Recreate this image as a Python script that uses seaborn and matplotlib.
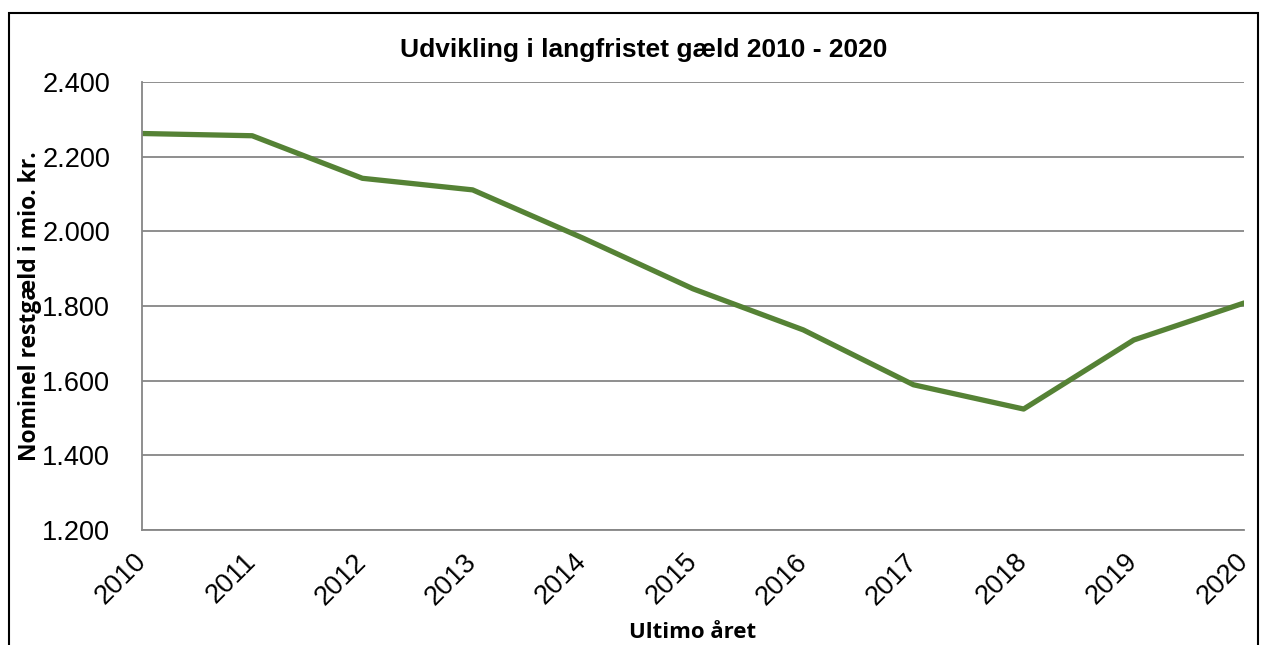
import matplotlib
matplotlib.use("Agg")
import matplotlib.pyplot as plt
import seaborn as sns
import pandas as pd
from matplotlib.patches import Rectangle

years = [2010, 2011, 2012, 2013, 2014, 2015, 2016, 2017, 2018, 2019, 2020]
restgaeld = [2262, 2256, 2142, 2111, 1982, 1846, 1736, 1589, 1524, 1709, 1808]
y_ticks = [1200, 1400, 1600, 1800, 2000, 2200, 2400]
y_tick_labels = ["1.200", "1.400", "1.600", "1.800", "2.000", "2.200", "2.400"]

df = pd.DataFrame({"aar": years, "gaeld": restgaeld})

sns.set_style("white")
plt.rcParams["font.family"] = ["Liberation Sans", "DejaVu Sans"]

grey = "#868686"
fig = plt.figure(figsize=(12.68, 6.45), dpi=100)
ax = fig.add_axes([0.112, 0.1783, 0.8691, 0.6946])

sns.lineplot(data=df, x="aar", y="gaeld", ax=ax, color="#558235", linewidth=3.8)

ax.set_xlim(2010, 2020)
ax.set_ylim(1200, 2400)
ax.set_yticks(y_ticks)
ax.set_yticklabels(y_tick_labels, fontsize=19.5, color="black")
ax.set_xticks(years)
ax.set_xticklabels([str(y) for y in years], fontsize=19.5, color="black",
                   rotation=45, ha="right", va="center", rotation_mode="anchor")
ax.grid(axis="y", color=grey, linewidth=1.3)
ax.set_axisbelow(True)
for side in ["top", "right"]:
    ax.spines[side].set_visible(False)
for side in ["left", "bottom"]:
    ax.spines[side].set_color(grey)
    ax.spines[side].set_linewidth(1.3)
ax.tick_params(axis="y", length=5, color=grey, width=1.3, pad=18)
ax.tick_params(axis="x", length=5, color=grey, width=1.3, pad=15, direction="out")

# title is centred on the whole chart, not the axes
fig.text(644 / 1268, 1 - 50 / 645, "Udvikling i langfristet gæld 2010 - 2020",
         fontsize=19, fontweight="bold", color="black", ha="center", va="center")
ax.set_xlabel("Ultimo året", fontsize=16, fontweight="bold", color="black",
              family=["Open Sans", "DejaVu Sans"])
ax.set_ylabel("Nominel restgæld i mio. kr.", fontsize=16.5, fontweight="bold",
              color="black", family=["Open Sans", "DejaVu Sans"])
ax.xaxis.set_label_coords(0.5, -0.206)
ax.yaxis.set_label_coords(-0.091, 0.5)

# frame around the chart area (bottom edge falls outside the image)
fig.patches.append(Rectangle((9 / 1268, -0.05), 1249 / 1268, 1 - 13 / 645 + 0.05,
                             transform=fig.transFigure, fill=False,
                             edgecolor="black", linewidth=1.5))

fig.savefig("out.png", dpi=100)
